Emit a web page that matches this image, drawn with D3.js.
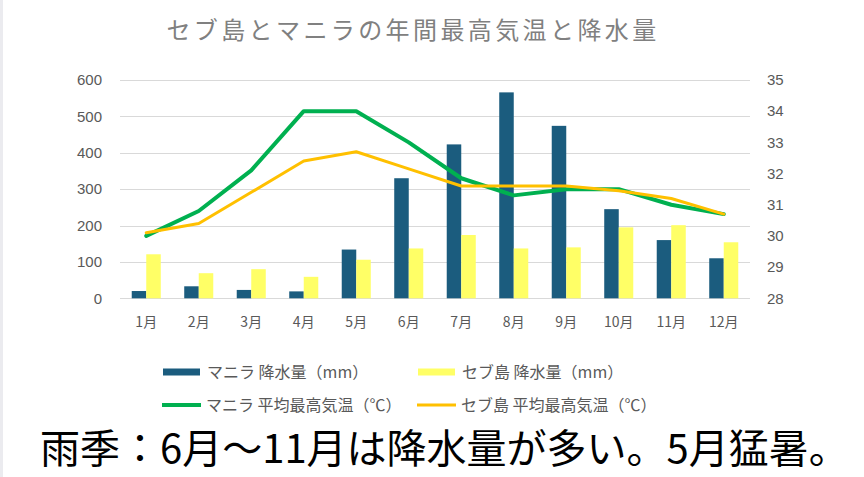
<!DOCTYPE html>
<html>
<head>
<meta charset="utf-8">
<script src="https://cdn.jsdelivr.net/npm/d3@7"></script>
<style>
  body { margin: 0; background: #fff; }
  svg { display: block; }
</style>
</head>
<body>
<div id="chart"></div>
<script>
// data
var months = ["1月", "2月", "3月", "4月", "5月", "6月", "7月", "8月", "9月", "10月", "11月", "12月"];
var manilaRain = [20, 33, 23, 19, 134, 330, 423, 566, 474, 245, 160, 110];
var cebuRain = [121, 69, 80, 59, 106, 137, 174, 137, 140, 195, 201, 154];
var manilaTemp = [30.0, 30.8, 32.1, 34.0, 34.0, 33.0, 31.85, 31.3, 31.5, 31.5, 31.0, 30.7];
var cebuTemp = [30.1, 30.4, 31.4, 32.4, 32.7, 32.15, 31.6, 31.6, 31.6, 31.45, 31.2, 30.7];
var rainTicks = [0, 100, 200, 300, 400, 500, 600];
var tempTicks = [28, 29, 30, 31, 32, 33, 34, 35];

var W = 864, H = 477;
var plot = {left: 120, right: 750, top: 80, bottom: 298.3};

var svg = d3.select("#chart").append("svg")
    .attr("width", W)
    .attr("height", H);

// thin gray strip on the left edge
svg.append("rect").attr("x", 0).attr("y", 0).attr("width", 3).attr("height", H).attr("fill", "#ebebef");

var x = d3.scaleBand()
    .domain(months)
    .range([plot.left, plot.right])
    .paddingInner(0.447)
    .paddingOuter(0.2235);

var xs = d3.scaleBand()
    .domain(["manila", "cebu"])
    .range([0, x.bandwidth()]);

var yRain = d3.scaleLinear().domain([0, 600]).range([plot.bottom, plot.top]);
var yTemp = d3.scaleLinear().domain([28, 35]).range([plot.bottom, plot.top]);

var grey = "#595959";

// title
svg.append("text")
    .attr("x", 413)
    .attr("y", 39)
    .attr("text-anchor", "middle")
    .attr("font-family", "'Noto Sans CJK JP', sans-serif")
    .attr("font-size", 24)
    .attr("letter-spacing", 3.4)
    .attr("fill", "#808080")
    .text("セブ島とマニラの年間最高気温と降水量");

// gridlines
svg.append("g").selectAll("line")
    .data(rainTicks)
    .enter().append("line")
    .attr("x1", plot.left).attr("x2", plot.right)
    .attr("y1", function(d) { return Math.round(yRain(d)) + 0.5; })
    .attr("y2", function(d) { return Math.round(yRain(d)) + 0.5; })
    .attr("stroke", "#d9d9d9")
    .attr("stroke-width", 1);

// left axis
var leftAxis = svg.append("g")
    .attr("transform", "translate(" + (plot.left - 18) + ",0)")
    .call(d3.axisLeft(yRain).tickValues(rainTicks).tickSize(0).tickPadding(0));
leftAxis.select(".domain").remove();
leftAxis.selectAll("text")
    .attr("font-family", "'Liberation Sans', Arial, sans-serif")
    .attr("font-size", 15)
    .attr("fill", grey);

// right axis
var rightAxis = svg.append("g")
    .attr("transform", "translate(" + (plot.right + 17) + ",0)")
    .call(d3.axisRight(yTemp).tickValues(tempTicks).tickFormat(d3.format("d")).tickSize(0).tickPadding(0));
rightAxis.select(".domain").remove();
rightAxis.selectAll("text")
    .attr("font-family", "'Liberation Sans', Arial, sans-serif")
    .attr("font-size", 15)
    .attr("fill", grey);

// bottom axis labels
var bottomAxis = svg.append("g")
    .attr("transform", "translate(0," + (plot.bottom + 19) + ")")
    .call(d3.axisBottom(x).tickSize(0).tickPadding(0));
bottomAxis.select(".domain").remove();
bottomAxis.selectAll("text")
    .attr("font-family", "'Noto Sans CJK JP', sans-serif")
    .attr("font-size", 14)
    .attr("fill", grey);

// bars
var barColors = {manila: "#1b5c7e", cebu: "#ffff66"};

svg.append("g").selectAll("rect")
    .data(manilaRain)
    .enter().append("rect")
    .attr("x", function(d, i) { return x(months[i]) + xs("manila"); })
    .attr("y", function(d) { return yRain(d); })
    .attr("width", xs.bandwidth())
    .attr("height", function(d) { return yRain(0) - yRain(d); })
    .attr("fill", barColors.manila);

svg.append("g").selectAll("rect")
    .data(cebuRain)
    .enter().append("rect")
    .attr("x", function(d, i) { return x(months[i]) + xs("cebu"); })
    .attr("y", function(d) { return yRain(d); })
    .attr("width", xs.bandwidth())
    .attr("height", function(d) { return yRain(0) - yRain(d); })
    .attr("fill", barColors.cebu);

// lines
var line = d3.line()
    .x(function(d, i) { return x(months[i]) + x.bandwidth() / 2; })
    .y(function(d) { return yTemp(d); });

svg.append("path")
    .datum(manilaTemp)
    .attr("d", line)
    .attr("fill", "none")
    .attr("stroke", "#00b050")
    .attr("stroke-width", 4)
    .attr("stroke-linejoin", "round")
    .attr("stroke-linecap", "round");

svg.append("path")
    .datum(cebuTemp)
    .attr("d", line)
    .attr("fill", "none")
    .attr("stroke", "#ffc000")
    .attr("stroke-width", 3)
    .attr("stroke-linejoin", "round")
    .attr("stroke-linecap", "round");

// legend
var legend = [
  {label: "マニラ 降水量（mm）", type: "bar", color: barColors.manila, x: 163, y: 372},
  {label: "セブ島 降水量（mm）", type: "bar", color: barColors.cebu, x: 418, y: 372},
  {label: "マニラ 平均最高気温（℃）", type: "line", color: "#00b050", x: 162, y: 405},
  {label: "セブ島 平均最高気温（℃）", type: "line", color: "#ffc000", x: 417, y: 405}
];

var lg = svg.append("g").selectAll("g")
    .data(legend)
    .enter().append("g")
    .attr("transform", function(d) { return "translate(" + d.x + "," + d.y + ")"; });

lg.filter(function(d) { return d.type === "bar"; })
    .append("rect")
    .attr("x", 0).attr("y", -3.5)
    .attr("width", 37).attr("height", 7)
    .attr("fill", function(d) { return d.color; });

lg.filter(function(d) { return d.type === "line"; })
    .append("line")
    .attr("x1", 0).attr("x2", 39)
    .attr("y1", 0).attr("y2", 0)
    .attr("stroke", function(d) { return d.color; })
    .attr("stroke-width", function(d) { return d.color === "#00b050" ? 4 : 3; });

lg.append("text")
    .attr("x", 44)
    .attr("y", 0)
    .attr("dy", "0.36em")
    .attr("font-family", "'Noto Sans CJK JP', sans-serif")
    .attr("font-size", 16)
    .attr("fill", grey)
    .text(function(d) { return d.label; });

// caption
svg.append("text")
    .attr("x", 40)
    .attr("y", 463)
    .attr("font-family", "'Noto Sans CJK JP', sans-serif")
    .attr("font-size", 40)
    .attr("fill", "#000")
    .text("雨季：6月〜11月は降水量が多い。5月猛暑。");
</script>
</body>
</html>
